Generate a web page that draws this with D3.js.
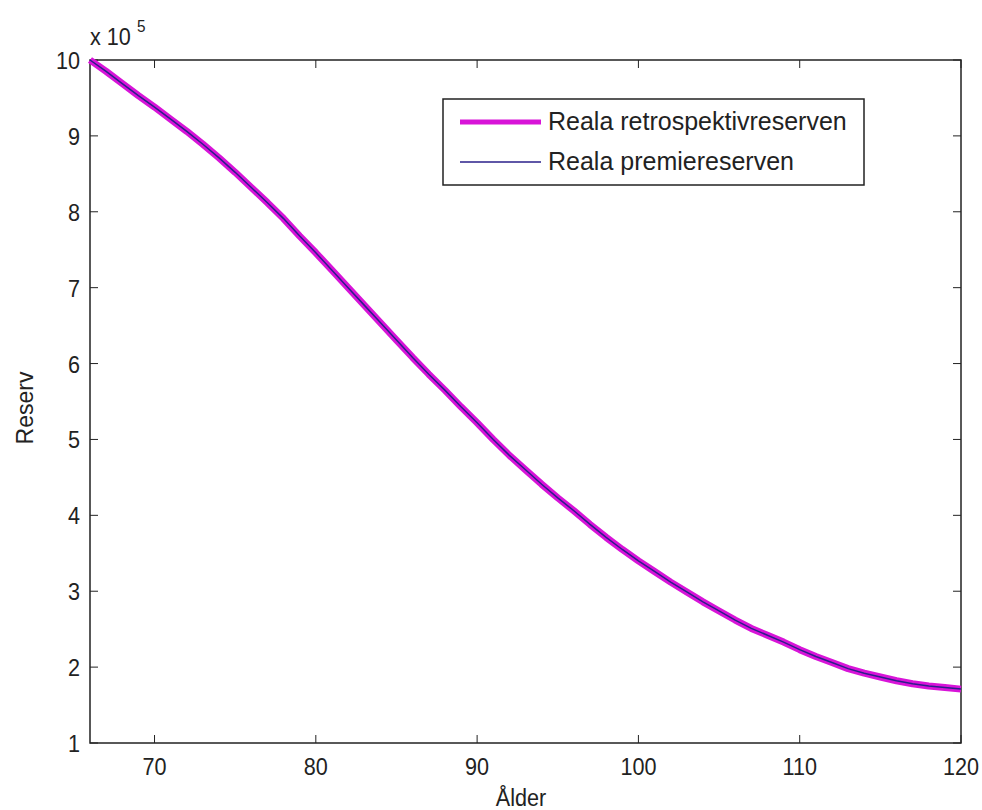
<!DOCTYPE html>
<html><head><meta charset="utf-8">
<script src="https://cdn.jsdelivr.net/npm/d3@7"></script>
<style>body{margin:0;background:#fff}svg{display:block}text{font-family:"Liberation Sans",Arial,sans-serif;fill:#222}</style>
</head><body>
<script>
const ages = d3.range(66, 121);
const retroValues = [10.00,9.85,9.69,9.53,9.38,9.22,9.06,8.89,8.71,8.52,8.32,8.12,7.91,7.68,7.46,7.23,7.00,6.77,6.54,6.31,6.08,5.86,5.65,5.43,5.22,5.00,4.79,4.60,4.41,4.23,4.06,3.88,3.71,3.55,3.40,3.26,3.12,2.99,2.86,2.74,2.62,2.51,2.42,2.33,2.23,2.14,2.06,1.98,1.92,1.87,1.82,1.78,1.75,1.73,1.71];
const premieValues = [10.00,9.85,9.69,9.53,9.38,9.22,9.06,8.89,8.71,8.52,8.32,8.12,7.91,7.68,7.46,7.23,7.00,6.77,6.54,6.31,6.08,5.86,5.65,5.43,5.22,5.00,4.79,4.60,4.41,4.23,4.06,3.88,3.71,3.55,3.40,3.26,3.12,2.99,2.86,2.74,2.62,2.51,2.42,2.33,2.23,2.14,2.06,1.98,1.92,1.87,1.82,1.78,1.75,1.73,1.71];
const xTicks = [70,80,90,100,110,120];
const yTicks = [1,2,3,4,5,6,7,8,9,10];
const seriesNames = ["Reala retrospektivreserven","Reala premiereserven"];

const W=982,H=810, L=90,R=961,T=60,B=743;
const svg=d3.select("body").append("svg").attr("width",W).attr("height",H);
const x=d3.scaleLinear().domain([66,120]).range([L,R]);
const y=d3.scaleLinear().domain([1,10]).range([B,T]);

const fs=24, sx=0.9;
function label(px,py,txt,anchor,size){
  const g=svg.append("g").attr("transform",`translate(${px},${py}) scale(${sx},1)`);
  return g.append("text").attr("text-anchor",anchor).attr("font-size",size||fs).text(txt);
}
// box
svg.append("rect").attr("x",L).attr("y",T).attr("width",R-L).attr("height",B-T).attr("fill","none").attr("stroke","#222").attr("stroke-width",1.5);
const tl=8;
xTicks.forEach(t=>{
  svg.append("line").attr("x1",x(t)).attr("x2",x(t)).attr("y1",B).attr("y2",B-tl).attr("stroke","#222");
  svg.append("line").attr("x1",x(t)).attr("x2",x(t)).attr("y1",T).attr("y2",T+tl).attr("stroke","#222");
  label(x(t),775,t,"middle");
});
yTicks.forEach(t=>{
  svg.append("line").attr("x1",L).attr("x2",L+tl).attr("y1",y(t)).attr("y2",y(t)).attr("stroke","#222");
  svg.append("line").attr("x1",R).attr("x2",R-tl).attr("y1",y(t)).attr("y2",y(t)).attr("stroke","#222");
  label(L-10,y(t)+9,t,"end");
});
// exponent
label(L,45,"x 10","start",24);
label(137,32,"5","start",17);

// axis labels
label(521,806,"Ålder","middle");
svg.append("text").attr("transform","translate(33,408) rotate(-90)").attr("text-anchor","middle").attr("font-size",23).text("Reserv");

const line=d3.line().x((d,i)=>x(ages[i])).y(d=>y(d));
svg.append("path").datum(retroValues).attr("d",line).attr("fill","none").attr("stroke","#d814d8").attr("stroke-width",7).attr("stroke-linejoin","round");
svg.append("path").datum(premieValues).attr("d",line).attr("fill","none").attr("stroke","#2a1f8a").attr("stroke-width",1.5);

// legend
const lg=svg.append("g");
lg.append("rect").attr("x",443).attr("y",99).attr("width",421).attr("height",86).attr("fill","#fff").attr("stroke","#222").attr("stroke-width",1.5);
lg.append("line").attr("x1",460).attr("x2",541).attr("y1",122).attr("y2",122).attr("stroke","#d814d8").attr("stroke-width",5);
lg.append("line").attr("x1",460).attr("x2",541).attr("y1",162).attr("y2",162).attr("stroke","#2a1f8a").attr("stroke-width",1.5);
lg.append("text").attr("x",548).attr("y",130).attr("font-size",25).text(seriesNames[0]);
lg.append("text").attr("x",548).attr("y",170).attr("font-size",25).text(seriesNames[1]);
</script>
</body></html>
